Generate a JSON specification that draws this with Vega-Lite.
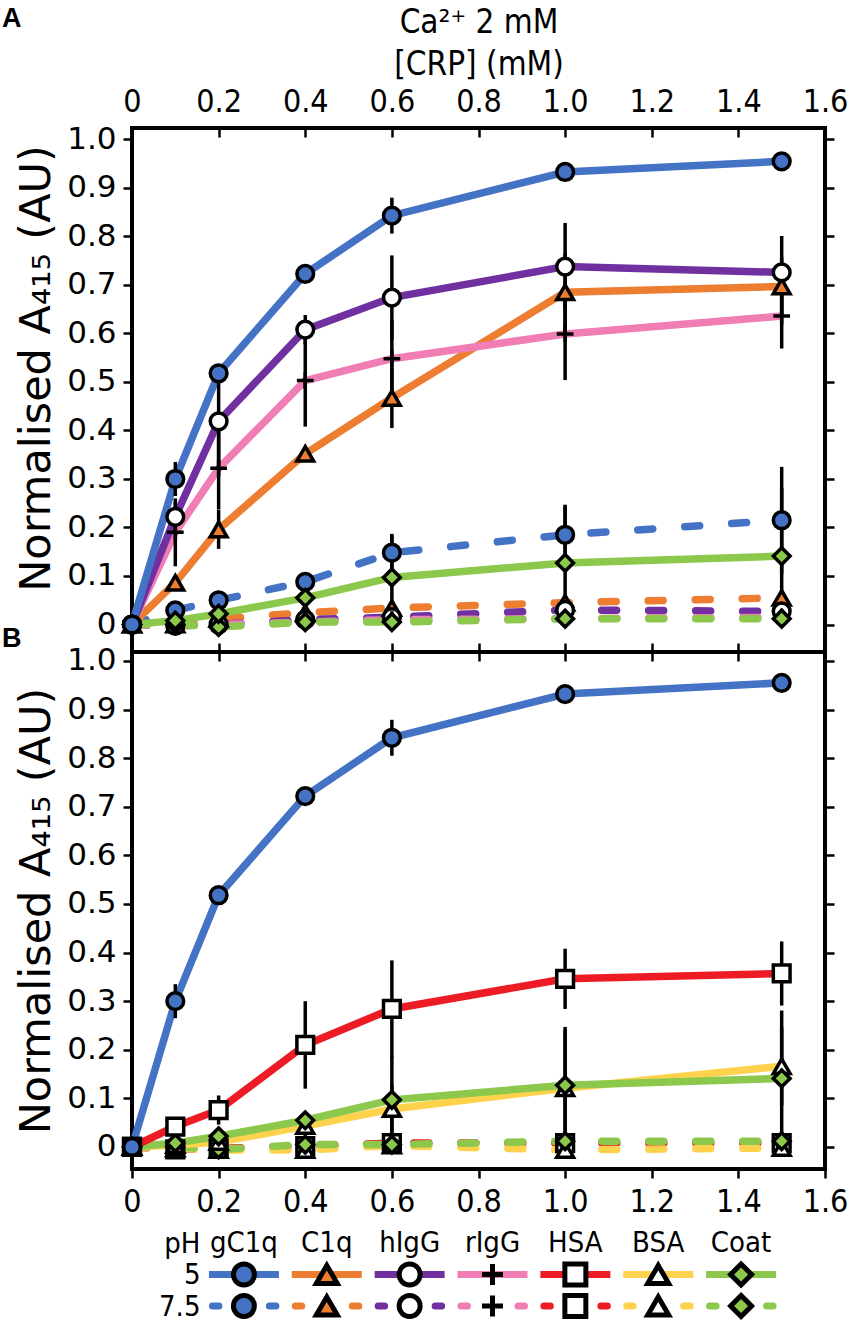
{
  "$schema": "https://vega.github.io/schema/vega-lite/v6.json",
  "padding": {"left": 0, "top": 3, "right": 0, "bottom": 0},
  "bounds": "flush",
  "spacing": 0,
  "config": {
    "background": "white",
    "view": {"stroke": "black", "strokeWidth": 4},
    "axis": {
      "grid": false,
      "domain": false,
      "tickColor": "black",
      "tickWidth": 2.5,
      "labelColor": "black",
      "titleColor": "black",
      "labelFont": "DejaVu Sans",
      "titleFont": "DejaVu Sans",
      "titleFontWeight": "normal",
      "labelOverlap": false,
      "labelFlush": false,
      "labelBound": false
    }
  },
  "datasets": {
    "pts": [
      {"panel": "A", "protein": "gC1q", "ph": "7.5", "x": 0, "y": 0},
      {"panel": "A", "protein": "gC1q", "ph": "7.5", "x": 0.1, "y": 0.029},
      {"panel": "A", "protein": "gC1q", "ph": "7.5", "x": 0.2, "y": 0.05},
      {"panel": "A", "protein": "gC1q", "ph": "7.5", "x": 0.4, "y": 0.088},
      {"panel": "A", "protein": "gC1q", "ph": "7.5", "x": 0.6, "y": 0.148, "err": 0.037},
      {"panel": "A", "protein": "gC1q", "ph": "7.5", "x": 1.0, "y": 0.185, "err": 0.06},
      {"panel": "A", "protein": "gC1q", "ph": "7.5", "x": 1.5, "y": 0.215, "err": 0.11},
      {"panel": "A", "protein": "C1q", "ph": "7.5", "x": 0, "y": 0},
      {"panel": "A", "protein": "C1q", "ph": "7.5", "x": 0.1, "y": 0.0},
      {"panel": "A", "protein": "C1q", "ph": "7.5", "x": 0.2, "y": 0.012},
      {"panel": "A", "protein": "C1q", "ph": "7.5", "x": 0.4, "y": 0.024},
      {"panel": "A", "protein": "C1q", "ph": "7.5", "x": 0.6, "y": 0.034},
      {"panel": "A", "protein": "C1q", "ph": "7.5", "x": 1.0, "y": 0.045},
      {"panel": "A", "protein": "C1q", "ph": "7.5", "x": 1.5, "y": 0.055},
      {"panel": "A", "protein": "hIgG", "ph": "7.5", "x": 0, "y": 0},
      {"panel": "A", "protein": "hIgG", "ph": "7.5", "x": 0.1, "y": -0.003},
      {"panel": "A", "protein": "hIgG", "ph": "7.5", "x": 0.2, "y": 0.0},
      {"panel": "A", "protein": "hIgG", "ph": "7.5", "x": 0.4, "y": 0.01},
      {"panel": "A", "protein": "hIgG", "ph": "7.5", "x": 0.6, "y": 0.015},
      {"panel": "A", "protein": "hIgG", "ph": "7.5", "x": 1.0, "y": 0.03},
      {"panel": "A", "protein": "hIgG", "ph": "7.5", "x": 1.5, "y": 0.027},
      {"panel": "A", "protein": "rIgG", "ph": "7.5", "x": 0, "y": 0},
      {"panel": "A", "protein": "rIgG", "ph": "7.5", "x": 0.1, "y": -0.003},
      {"panel": "A", "protein": "rIgG", "ph": "7.5", "x": 0.2, "y": 0.0},
      {"panel": "A", "protein": "rIgG", "ph": "7.5", "x": 0.4, "y": 0.005},
      {"panel": "A", "protein": "rIgG", "ph": "7.5", "x": 0.6, "y": 0.01},
      {"panel": "A", "protein": "rIgG", "ph": "7.5", "x": 1.0, "y": 0.012},
      {"panel": "A", "protein": "rIgG", "ph": "7.5", "x": 1.5, "y": 0.015},
      {"panel": "A", "protein": "Coat", "ph": "7.5", "x": 0, "y": 0},
      {"panel": "A", "protein": "Coat", "ph": "7.5", "x": 0.1, "y": 0.0},
      {"panel": "A", "protein": "Coat", "ph": "7.5", "x": 0.2, "y": -0.005},
      {"panel": "A", "protein": "Coat", "ph": "7.5", "x": 0.4, "y": 0.005},
      {"panel": "A", "protein": "Coat", "ph": "7.5", "x": 0.6, "y": 0.005},
      {"panel": "A", "protein": "Coat", "ph": "7.5", "x": 1.0, "y": 0.012},
      {"panel": "A", "protein": "Coat", "ph": "7.5", "x": 1.5, "y": 0.012},
      {"panel": "A", "protein": "Coat", "ph": "5", "x": 0, "y": 0},
      {"panel": "A", "protein": "Coat", "ph": "5", "x": 0.1, "y": 0.008},
      {"panel": "A", "protein": "Coat", "ph": "5", "x": 0.2, "y": 0.022},
      {"panel": "A", "protein": "Coat", "ph": "5", "x": 0.4, "y": 0.055},
      {"panel": "A", "protein": "Coat", "ph": "5", "x": 0.6, "y": 0.097, "err": 0.09},
      {"panel": "A", "protein": "Coat", "ph": "5", "x": 1.0, "y": 0.127, "err": 0.12},
      {"panel": "A", "protein": "Coat", "ph": "5", "x": 1.5, "y": 0.141, "err": 0.14},
      {"panel": "A", "protein": "C1q", "ph": "5", "x": 0, "y": 0},
      {"panel": "A", "protein": "C1q", "ph": "5", "x": 0.1, "y": 0.086},
      {"panel": "A", "protein": "C1q", "ph": "5", "x": 0.2, "y": 0.196, "err": 0.04},
      {"panel": "A", "protein": "C1q", "ph": "5", "x": 0.4, "y": 0.352},
      {"panel": "A", "protein": "C1q", "ph": "5", "x": 0.6, "y": 0.467, "err": 0.062},
      {"panel": "A", "protein": "C1q", "ph": "5", "x": 1.0, "y": 0.685, "err": 0.08},
      {"panel": "A", "protein": "C1q", "ph": "5", "x": 1.5, "y": 0.697, "err": 0.06},
      {"panel": "A", "protein": "rIgG", "ph": "5", "x": 0, "y": 0},
      {"panel": "A", "protein": "rIgG", "ph": "5", "x": 0.1, "y": 0.19, "err": 0.07},
      {"panel": "A", "protein": "rIgG", "ph": "5", "x": 0.2, "y": 0.322, "err": 0.085},
      {"panel": "A", "protein": "rIgG", "ph": "5", "x": 0.4, "y": 0.503, "err": 0.095},
      {"panel": "A", "protein": "rIgG", "ph": "5", "x": 0.6, "y": 0.548, "err": 0.08},
      {"panel": "A", "protein": "rIgG", "ph": "5", "x": 1.0, "y": 0.599, "err": 0.095},
      {"panel": "A", "protein": "rIgG", "ph": "5", "x": 1.5, "y": 0.636, "err": 0.067},
      {"panel": "A", "protein": "hIgG", "ph": "5", "x": 0, "y": 0},
      {"panel": "A", "protein": "hIgG", "ph": "5", "x": 0.1, "y": 0.222, "err": 0.03},
      {"panel": "A", "protein": "hIgG", "ph": "5", "x": 0.2, "y": 0.419, "err": 0.1},
      {"panel": "A", "protein": "hIgG", "ph": "5", "x": 0.4, "y": 0.608, "err": 0.03},
      {"panel": "A", "protein": "hIgG", "ph": "5", "x": 0.6, "y": 0.674, "err": 0.087},
      {"panel": "A", "protein": "hIgG", "ph": "5", "x": 1.0, "y": 0.738, "err": 0.09},
      {"panel": "A", "protein": "hIgG", "ph": "5", "x": 1.5, "y": 0.726, "err": 0.075},
      {"panel": "A", "protein": "gC1q", "ph": "5", "x": 0, "y": 0},
      {"panel": "A", "protein": "gC1q", "ph": "5", "x": 0.1, "y": 0.30, "err": 0.035},
      {"panel": "A", "protein": "gC1q", "ph": "5", "x": 0.2, "y": 0.518},
      {"panel": "A", "protein": "gC1q", "ph": "5", "x": 0.4, "y": 0.723},
      {"panel": "A", "protein": "gC1q", "ph": "5", "x": 0.6, "y": 0.843, "err": 0.037},
      {"panel": "A", "protein": "gC1q", "ph": "5", "x": 1.0, "y": 0.933, "err": 0.016},
      {"panel": "A", "protein": "gC1q", "ph": "5", "x": 1.5, "y": 0.955},

      {"panel": "B", "protein": "HSA", "ph": "7.5", "x": 0, "y": 0},
      {"panel": "B", "protein": "HSA", "ph": "7.5", "x": 0.1, "y": -0.005},
      {"panel": "B", "protein": "HSA", "ph": "7.5", "x": 0.2, "y": -0.003},
      {"panel": "B", "protein": "HSA", "ph": "7.5", "x": 0.4, "y": 0.002},
      {"panel": "B", "protein": "HSA", "ph": "7.5", "x": 0.6, "y": 0.008},
      {"panel": "B", "protein": "HSA", "ph": "7.5", "x": 1.0, "y": 0.008},
      {"panel": "B", "protein": "HSA", "ph": "7.5", "x": 1.5, "y": 0.008},
      {"panel": "B", "protein": "BSA", "ph": "7.5", "x": 0, "y": 0},
      {"panel": "B", "protein": "BSA", "ph": "7.5", "x": 0.1, "y": -0.003},
      {"panel": "B", "protein": "BSA", "ph": "7.5", "x": 0.2, "y": -0.006},
      {"panel": "B", "protein": "BSA", "ph": "7.5", "x": 0.4, "y": -0.006},
      {"panel": "B", "protein": "BSA", "ph": "7.5", "x": 0.6, "y": 0.003},
      {"panel": "B", "protein": "BSA", "ph": "7.5", "x": 1.0, "y": -0.006},
      {"panel": "B", "protein": "BSA", "ph": "7.5", "x": 1.5, "y": -0.002},
      {"panel": "B", "protein": "Coat", "ph": "7.5", "x": 0, "y": 0},
      {"panel": "B", "protein": "Coat", "ph": "7.5", "x": 0.1, "y": 0.0},
      {"panel": "B", "protein": "Coat", "ph": "7.5", "x": 0.2, "y": -0.005},
      {"panel": "B", "protein": "Coat", "ph": "7.5", "x": 0.4, "y": 0.005},
      {"panel": "B", "protein": "Coat", "ph": "7.5", "x": 0.6, "y": 0.005},
      {"panel": "B", "protein": "Coat", "ph": "7.5", "x": 1.0, "y": 0.012},
      {"panel": "B", "protein": "Coat", "ph": "7.5", "x": 1.5, "y": 0.012},
      {"panel": "B", "protein": "BSA", "ph": "5", "x": 0, "y": 0},
      {"panel": "B", "protein": "BSA", "ph": "5", "x": 0.1, "y": 0.004},
      {"panel": "B", "protein": "BSA", "ph": "5", "x": 0.2, "y": 0.01},
      {"panel": "B", "protein": "BSA", "ph": "5", "x": 0.4, "y": 0.043},
      {"panel": "B", "protein": "BSA", "ph": "5", "x": 0.6, "y": 0.078, "err": 0.05},
      {"panel": "B", "protein": "BSA", "ph": "5", "x": 1.0, "y": 0.121, "err": 0.12},
      {"panel": "B", "protein": "BSA", "ph": "5", "x": 1.5, "y": 0.166, "err": 0.08},
      {"panel": "B", "protein": "Coat", "ph": "5", "x": 0, "y": 0},
      {"panel": "B", "protein": "Coat", "ph": "5", "x": 0.1, "y": 0.008},
      {"panel": "B", "protein": "Coat", "ph": "5", "x": 0.2, "y": 0.022},
      {"panel": "B", "protein": "Coat", "ph": "5", "x": 0.4, "y": 0.055},
      {"panel": "B", "protein": "Coat", "ph": "5", "x": 0.6, "y": 0.097, "err": 0.09},
      {"panel": "B", "protein": "Coat", "ph": "5", "x": 1.0, "y": 0.127, "err": 0.12},
      {"panel": "B", "protein": "Coat", "ph": "5", "x": 1.5, "y": 0.141, "err": 0.14},
      {"panel": "B", "protein": "HSA", "ph": "5", "x": 0, "y": 0},
      {"panel": "B", "protein": "HSA", "ph": "5", "x": 0.1, "y": 0.042, "err": 0.015},
      {"panel": "B", "protein": "HSA", "ph": "5", "x": 0.2, "y": 0.076, "err": 0.03},
      {"panel": "B", "protein": "HSA", "ph": "5", "x": 0.4, "y": 0.21, "err": 0.09},
      {"panel": "B", "protein": "HSA", "ph": "5", "x": 0.6, "y": 0.284, "err": 0.1},
      {"panel": "B", "protein": "HSA", "ph": "5", "x": 1.0, "y": 0.346, "err": 0.062},
      {"panel": "B", "protein": "HSA", "ph": "5", "x": 1.5, "y": 0.357, "err": 0.066},
      {"panel": "B", "protein": "gC1q", "ph": "5", "x": 0, "y": 0},
      {"panel": "B", "protein": "gC1q", "ph": "5", "x": 0.1, "y": 0.30, "err": 0.035},
      {"panel": "B", "protein": "gC1q", "ph": "5", "x": 0.2, "y": 0.518},
      {"panel": "B", "protein": "gC1q", "ph": "5", "x": 0.4, "y": 0.722},
      {"panel": "B", "protein": "gC1q", "ph": "5", "x": 0.6, "y": 0.842, "err": 0.037},
      {"panel": "B", "protein": "gC1q", "ph": "5", "x": 1.0, "y": 0.932, "err": 0.015},
      {"panel": "B", "protein": "gC1q", "ph": "5", "x": 1.5, "y": 0.955}
    ],
    "leg": [
      {"protein": "gC1q", "ph": "5"}, {"protein": "C1q", "ph": "5"}, {"protein": "hIgG", "ph": "5"},
      {"protein": "rIgG", "ph": "5"}, {"protein": "HSA", "ph": "5"}, {"protein": "BSA", "ph": "5"},
      {"protein": "Coat", "ph": "5"},
      {"protein": "gC1q", "ph": "7.5"}, {"protein": "C1q", "ph": "7.5"}, {"protein": "hIgG", "ph": "7.5"},
      {"protein": "rIgG", "ph": "7.5"}, {"protein": "HSA", "ph": "7.5"}, {"protein": "BSA", "ph": "7.5"},
      {"protein": "Coat", "ph": "7.5"}
    ]
  },
  "vconcat": [
    {
      "width": 693,
      "height": 524,
      "data": {"name": "pts"},
      "transform": [{"filter": "datum.panel == 'A'"}],
      "layer": [
        {
          "transform": [{"filter": "datum.ph == '7.5'"}],
          "mark": {"type": "line", "strokeWidth": 7.5, "strokeDash": [15, 32], "strokeCap": "round"},
          "encoding": {
            "x": {
              "field": "x", "type": "quantitative",
              "scale": {"domain": [0, 1.6], "nice": false, "zero": false},
              "axis": {
                "orient": "top",
                "values": [0, 0.2, 0.4, 0.6, 0.8, 1.0, 1.2, 1.4, 1.6],
                "labelExpr": "datum.value == 0 ? '0' : format(datum.value, '.1f')",
                "labelFont": "DejaVu Sans Condensed, Liberation Sans Narrow, DejaVu Sans",
                "labelFontSize": 32,
                "tickSize": -9,
                "labelPadding": 19,
                "title": ["Ca²⁺ 2 mM", "[CRP] (mM)"],
                "titleFont": "DejaVu Sans Condensed, Liberation Sans Narrow, DejaVu Sans",
                "titleFontSize": 33,
                "titleLineHeight": 42,
                "titlePadding": 4
              }
            },
            "y": {
              "field": "y", "type": "quantitative",
              "scale": {"domain": [-0.0567, 1.0237], "nice": false, "zero": false},
              "axis": {
                "orient": "left",
                "values": [0, 0.1, 0.2, 0.3, 0.4, 0.5, 0.6, 0.7, 0.8, 0.9, 1.0],
                "labelExpr": "datum.value == 0 ? '0' : format(datum.value, '.1f')",
                "labelFontSize": 31,
                "labelPadding": 7,
                "tickSize": 9,
                "title": "Normalised A₄₁₅ (AU)",
                "titleFontSize": 43,
                "titlePadding": 8,
                "titleY": 240
              }
            },
            "stroke": {
              "field": "protein", "type": "nominal", "legend": null,
              "scale": {
                "domain": ["gC1q", "C1q", "hIgG", "rIgG", "HSA", "BSA", "Coat"],
                "range": ["#4472C4", "#ED7D31", "#7030A0", "#F07EB4", "#ED1C24", "#FFD24D", "#8CC84B"]
              }
            }
          }
        },
        {
          "transform": [{"filter": "datum.ph == '5'"}],
          "mark": {"type": "line", "strokeWidth": 7.5},
          "encoding": {
            "x": {"field": "x", "type": "quantitative", "axis": null},
            "y": {"field": "y", "type": "quantitative", "axis": null},
            "stroke": {"field": "protein", "type": "nominal", "legend": null}
          }
        },
        {
          "transform": [{"filter": "isValid(datum.err)"}],
          "mark": {"type": "errorbar", "color": "black", "thickness": 3.5},
          "encoding": {
            "x": {"field": "x", "type": "quantitative", "axis": null},
            "y": {"field": "y", "type": "quantitative", "axis": null},
            "yError": {"field": "err"}
          }
        },
        {
          "mark": {"type": "point", "filled": true, "stroke": "black", "strokeWidth": 3.5, "size": 280, "opacity": 1},
          "encoding": {
            "x": {
              "field": "x", "type": "quantitative",
              "axis": {"orient": "bottom", "values": [0, 0.2, 0.4, 0.6, 0.8, 1.0, 1.2, 1.4, 1.6], "labels": false, "tickSize": -9, "title": null}
            },
            "y": {
              "field": "y", "type": "quantitative",
              "axis": {"orient": "right", "values": [0, 0.1, 0.2, 0.3, 0.4, 0.5, 0.6, 0.7, 0.8, 0.9, 1.0], "labels": false, "tickSize": 9, "title": null}
            },
            "shape": {
              "field": "protein", "type": "nominal", "legend": null,
              "scale": {
                "domain": ["gC1q", "C1q", "hIgG", "rIgG", "HSA", "BSA", "Coat"],
                "range": ["circle", "triangle-up", "circle", "M-1,0H1M0,-1V1", "square", "triangle-up", "diamond"]
              }
            },
            "fill": {
              "field": "protein", "type": "nominal", "legend": null,
              "scale": {
                "domain": ["gC1q", "C1q", "hIgG", "rIgG", "HSA", "BSA", "Coat"],
                "range": ["#4472C4", "#ED7D31", "white", "black", "white", "white", "#8CC84B"]
              }
            }
          }
        },
        {
          "data": {"values": [{"label": "A"}]},
          "transform": [],
          "mark": {"type": "text", "font": "Liberation Sans", "fontWeight": "bold", "fontSize": 27, "align": "left", "baseline": "middle", "color": "black"},
          "encoding": {
            "x": {"datum": -0.3, "type": "quantitative", "axis": null},
            "y": {"datum": 1.248, "type": "quantitative", "axis": null},
            "text": {"field": "label"}
          }
        }
      ],
      "resolve": {"axis": {"x": "independent", "y": "independent"}}
    },
    {
      "width": 693,
      "height": 517,
      "data": {"name": "pts"},
      "transform": [{"filter": "datum.panel == 'B'"}],
      "layer": [
        {
          "transform": [{"filter": "datum.ph == '7.5'"}],
          "mark": {"type": "line", "strokeWidth": 7.5, "strokeDash": [15, 32], "strokeCap": "round"},
          "encoding": {
            "x": {
              "field": "x", "type": "quantitative",
              "scale": {"domain": [0, 1.6], "nice": false, "zero": false},
              "axis": {
                "orient": "bottom",
                "values": [0, 0.2, 0.4, 0.6, 0.8, 1.0, 1.2, 1.4, 1.6],
                "labelExpr": "datum.value == 0 ? '0' : format(datum.value, '.1f')",
                "labelFont": "DejaVu Sans Condensed, Liberation Sans Narrow, DejaVu Sans",
                "labelFontSize": 32,
                "tickSize": 9,
                "labelPadding": 8,
                "title": null
              }
            },
            "y": {
              "field": "y", "type": "quantitative",
              "scale": {"domain": [-0.0453, 1.0185], "nice": false, "zero": false},
              "axis": {
                "orient": "left",
                "values": [0, 0.1, 0.2, 0.3, 0.4, 0.5, 0.6, 0.7, 0.8, 0.9, 1.0],
                "labelExpr": "datum.value == 0 ? '0' : format(datum.value, '.1f')",
                "labelFontSize": 31,
                "labelPadding": 7,
                "tickSize": 9,
                "title": "Normalised A₄₁₅ (AU)",
                "titleFontSize": 43,
                "titlePadding": 8
              }
            },
            "stroke": {"field": "protein", "type": "nominal", "legend": null}
          }
        },
        {
          "transform": [{"filter": "datum.ph == '5'"}],
          "mark": {"type": "line", "strokeWidth": 7.5},
          "encoding": {
            "x": {"field": "x", "type": "quantitative", "axis": null},
            "y": {"field": "y", "type": "quantitative", "axis": null},
            "stroke": {"field": "protein", "type": "nominal", "legend": null}
          }
        },
        {
          "transform": [{"filter": "isValid(datum.err)"}],
          "mark": {"type": "errorbar", "color": "black", "thickness": 3.5},
          "encoding": {
            "x": {"field": "x", "type": "quantitative", "axis": null},
            "y": {"field": "y", "type": "quantitative", "axis": null},
            "yError": {"field": "err"}
          }
        },
        {
          "mark": {"type": "point", "filled": true, "stroke": "black", "strokeWidth": 3.5, "size": 280, "opacity": 1},
          "encoding": {
            "x": {
              "field": "x", "type": "quantitative",
              "axis": {"orient": "top", "values": [0, 0.2, 0.4, 0.6, 0.8, 1.0, 1.2, 1.4, 1.6], "labels": false, "tickSize": -9, "title": null}
            },
            "y": {
              "field": "y", "type": "quantitative",
              "axis": {"orient": "right", "values": [0, 0.1, 0.2, 0.3, 0.4, 0.5, 0.6, 0.7, 0.8, 0.9, 1.0], "labels": false, "tickSize": 9, "title": null}
            },
            "shape": {"field": "protein", "type": "nominal", "legend": null},
            "fill": {"field": "protein", "type": "nominal", "legend": null}
          }
        },
        {
          "data": {"values": [{"label": "B"}]},
          "transform": [],
          "mark": {"type": "text", "font": "Liberation Sans", "fontWeight": "bold", "fontSize": 27, "align": "left", "baseline": "middle", "color": "black"},
          "encoding": {
            "x": {"datum": -0.3, "type": "quantitative", "axis": null},
            "y": {"datum": 1.046, "type": "quantitative", "axis": null},
            "text": {"field": "label"}
          }
        }
      ],
      "resolve": {"axis": {"x": "independent", "y": "independent"}}
    },
    {
      "width": 693,
      "height": 150,
      "view": {"stroke": null},
      "data": {"name": "leg"},
      "layer": [
        {
          "transform": [{"filter": "datum.ph == '5'"}],
          "mark": {"type": "text", "font": "DejaVu Sans Condensed, Liberation Sans Narrow, DejaVu Sans", "fontSize": 29, "baseline": "middle", "color": "black"},
          "encoding": {
            "x": {
              "field": "protein", "type": "nominal", "axis": null,
              "scale": {"type": "band", "domain": ["gC1q", "C1q", "hIgG", "rIgG", "HSA", "BSA", "Coat"], "range": [77, 644], "paddingInner": 0.157, "paddingOuter": 0}
            },
            "y": {
              "datum": "pH", "type": "nominal",
              "scale": {"type": "point", "domain": ["pH", "5", "7.5"], "range": [74, 137], "padding": 0},
              "axis": {"orient": "left", "offset": -68, "domain": false, "ticks": false, "labelPadding": 0, "labelFontSize": 29, "labelFont": "DejaVu Sans Condensed, Liberation Sans Narrow, DejaVu Sans", "title": null}
            },
            "text": {"field": "protein"}
          }
        },
        {
          "transform": [{"filter": "datum.ph == '5'"}],
          "mark": {"type": "rule", "strokeWidth": 7, "xOffset": -35, "x2Offset": 35},
          "encoding": {
            "x": {"field": "protein", "type": "nominal", "axis": null},
            "x2": {"field": "protein"},
            "y": {"field": "ph", "type": "nominal", "axis": {"orient": "left", "offset": -68, "domain": false, "ticks": false, "labelPadding": 0, "labelFontSize": 29, "labelFont": "DejaVu Sans Condensed, Liberation Sans Narrow, DejaVu Sans", "title": null}},
            "stroke": {"field": "protein", "type": "nominal", "legend": null}
          }
        },
        {
          "transform": [{"filter": "datum.ph == '7.5'"}],
          "mark": {"type": "rule", "strokeWidth": 7, "xOffset": -35, "x2Offset": 35, "strokeDash": [6.5, 50.5], "strokeDashOffset": -3.5, "strokeCap": "round"},
          "encoding": {
            "x": {"field": "protein", "type": "nominal", "axis": null},
            "x2": {"field": "protein"},
            "y": {"field": "ph", "type": "nominal", "axis": {"orient": "left", "offset": -68, "domain": false, "ticks": false, "labelPadding": 0, "labelFontSize": 29, "labelFont": "DejaVu Sans Condensed, Liberation Sans Narrow, DejaVu Sans", "title": null}},
            "stroke": {"field": "protein", "type": "nominal", "legend": null}
          }
        },
        {
          "mark": {"type": "point", "filled": true, "stroke": "black", "strokeWidth": 5, "size": 440, "opacity": 1},
          "encoding": {
            "x": {"field": "protein", "type": "nominal", "axis": null},
            "y": {"field": "ph", "type": "nominal", "axis": {"orient": "left", "offset": -68, "domain": false, "ticks": false, "labelPadding": 0, "labelFontSize": 29, "labelFont": "DejaVu Sans Condensed, Liberation Sans Narrow, DejaVu Sans", "title": null}},
            "shape": {"field": "protein", "type": "nominal", "legend": null},
            "fill": {"field": "protein", "type": "nominal", "legend": null}
          }
        }
      ]
    }
  ],
  "resolve": {"scale": {"x": "independent", "y": "independent"}}
}
